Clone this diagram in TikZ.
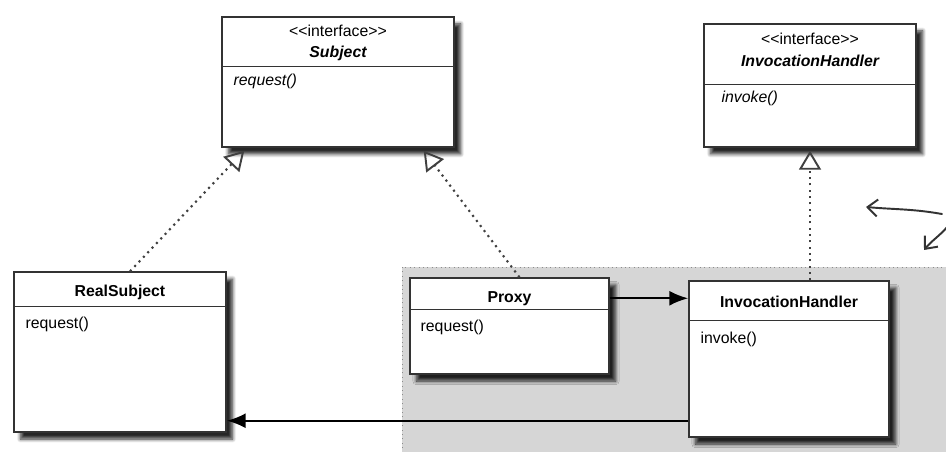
\documentclass[tikz,border=0pt]{standalone}
\usepackage{fontspec}
\setmainfont{Liberation Sans}
\usetikzlibrary{arrows.meta,calc,fit,shadows.blur}
\tikzset{
  cls/.style={draw=black!80, line width=0.8pt, fill=white, inner sep=0pt,
    blur shadow={shadow xshift=1.3mm, shadow yshift=-1.4mm, shadow blur steps=8, shadow opacity=85}},
  divider/.style={draw=black!80, line width=0.8pt},
  stereo/.style={font=\fontsize{9}{10}\selectfont, text=black, inner sep=0pt},
  title/.style={font=\fontsize{9}{10}\selectfont\bfseries, text=black, inner sep=0pt},
  ititle/.style={font=\fontsize{9}{10}\selectfont\bfseries\itshape, text=black, inner sep=0pt},
  method/.style={font=\fontsize{9}{10}\selectfont, text=black, inner sep=0pt, anchor=west},
  imethod/.style={method, font=\fontsize{9}{10}\selectfont\itshape},
  realize/.style={draw=black!75, line width=1.2pt, dash pattern=on 1.2pt off 2.4pt,
    -{Triangle[open, length=3.8mm, width=4.4mm, line width=1.1pt]}},
  assoc/.style={draw=black, line width=1.3pt, -{Latex[length=3.8mm, width=3mm]}},
  hand/.style={draw=black!80, line width=1.1pt, line cap=round, -{Straight Barb[length=2mm, width=3.4mm]}},
}
\begin{document}
\begin{tikzpicture}[x=0.02cm, y=-0.02cm]
  \useasboundingbox (0,0) rectangle (946,452);
  \clip (0,0) rectangle (946,452);
  % shaded area round the proxy classes
  \fill[black!16] (402,267) rectangle (960,470);
  \draw[black!45, line width=0.5pt, dotted] (402,470) -- (402,267) -- (960,267);

  % interfaces
  \node[cls, fit={(222,17) (454,147)}] (subject) {};
  \node[stereo] (subjectstereo) at ($(subject.north)+(0,15)$) {<\kern0pt<interface>\kern0pt>};
  \node[ititle] (subjectname) at ($(subject.north)+(0,37)$) {Subject};
  \draw[divider] ($(subject.north west)+(0,50)$) -- ($(subject.north east)+(0,50)$);
  \node[imethod] (subjectop) at ($(subject.north west)+(12,65)$) {request()};

  \node[cls, fit={(704,24) (916,147)}] (iface) {};
  \node[stereo] (ifacestereo) at ($(iface.north)+(0,16)$) {<\kern0pt<interface>\kern0pt>};
  \node[ititle] (ifacename) at ($(iface.north)+(0,38)$) {InvocationHandler};
  \draw[divider] ($(iface.north west)+(0,61)$) -- ($(iface.north east)+(0,61)$);
  \node[imethod] (ifaceop) at ($(iface.north west)+(18,75)$) {invoke()};

  % classes
  \node[cls, fit={(14,272) (226,432)}] (real) {};
  \node[title] (realname) at ($(real.north)+(0,21)$) {RealSubject};
  \draw[divider] ($(real.north west)+(0,35)$) -- ($(real.north east)+(0,35)$);
  \node[method] (realop) at ($(real.north west)+(12,53)$) {request()};

  \node[cls, fit={(410,278) (609,374)}] (proxy) {};
  \node[title] (proxyname) at ($(proxy.north)+(0,21)$) {Proxy};
  \draw[divider] ($(proxy.north west)+(0,32)$) -- ($(proxy.north east)+(0,32)$);
  \node[method] (proxyop) at ($(proxy.north west)+(11,50)$) {request()};

  \node[cls, fit={(689,281) (889,437)}] (handler) {};
  \node[title] (handlername) at ($(handler.north)+(0,22)$) {InvocationHandler};
  \draw[divider] ($(handler.north west)+(0,40)$) -- ($(handler.north east)+(0,40)$);
  \node[method] (handlerop) at ($(handler.north west)+(12,59)$) {invoke()};

  % connectors
  \draw[realize] ($(real.north)+(10,0)$) -- ($(subject.south west)+(23,3)$);
  \draw[realize] ($(proxy.north)+(10,0)$) -- ($(subject.south east)+(-31,3)$);
  \draw[realize] (handler.north -| ifacename) -- ($(iface.south)+(0,3)$);
  \draw[assoc] (proxy.east |- proxyname) -- (handler.west |- proxyname);
  \draw[assoc] ($(handler.south west)+(0,-17)$) -- ($(handler.south west -| real.east)+(0,-17)$);

  % hand drawn arrows
  \coordinate (notea) at (942,214);
  \coordinate (noteaend) at (866,207);
  \coordinate (noteb) at (948,226);
  \coordinate (notebend) at (924,250);
  \draw[hand] (notea) to[out=170, in=-5] (noteaend);
  \draw[hand] (noteb) to[out=-130, in=50] (notebend);
\end{tikzpicture}
\end{document}
